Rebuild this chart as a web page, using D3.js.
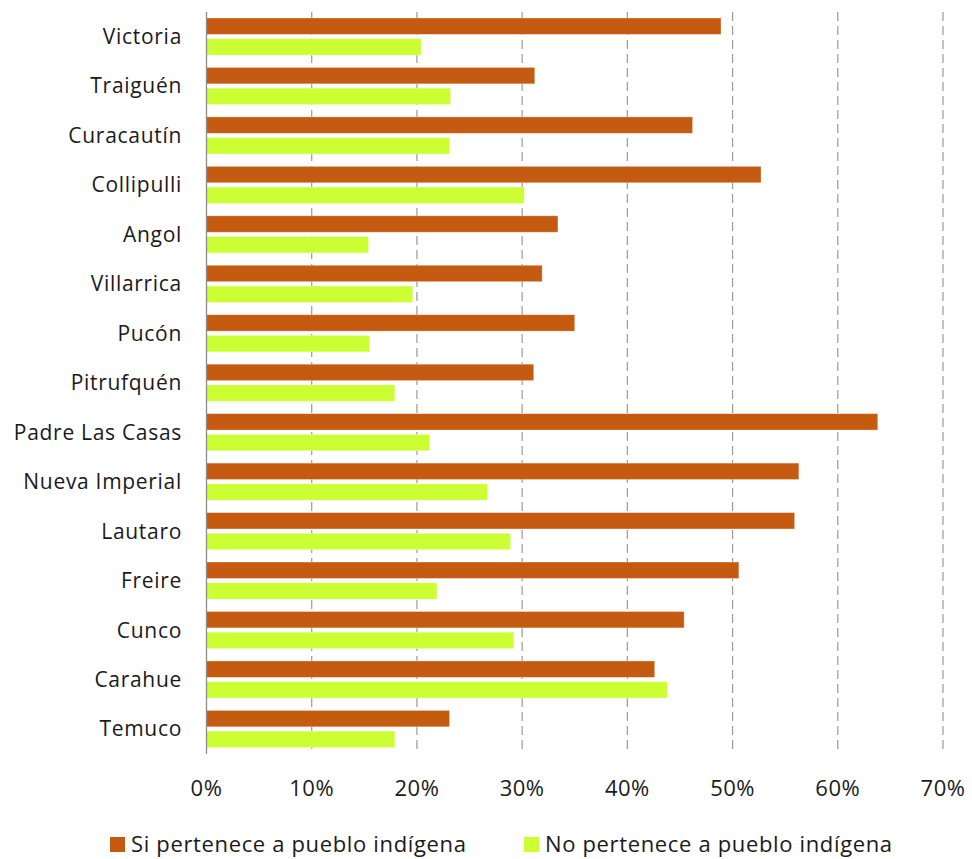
<!DOCTYPE html>
<html>
<head>
<meta charset="utf-8">
<script src="https://cdn.jsdelivr.net/npm/d3@7"></script>
<style>
  body { margin: 0; background: #fff; }
  svg { display: block; font-family: "Open Sans", sans-serif; }
</style>
</head>
<body>
<svg id="chart" width="972" height="859"></svg>
<script>
// data (shares, 0..1)
const categories = ["Victoria", "Traiguén", "Curacautín", "Collipulli", "Angol", "Villarrica",
  "Pucón", "Pitrufquén", "Padre Las Casas", "Nueva Imperial", "Lautaro", "Freire",
  "Cunco", "Carahue", "Temuco"];
const si_values = [0.489, 0.312, 0.462, 0.527, 0.334, 0.319, 0.350, 0.311, 0.638, 0.563,
  0.559, 0.506, 0.454, 0.426, 0.231];
const no_values = [0.204, 0.232, 0.231, 0.302, 0.154, 0.196, 0.155, 0.179, 0.212, 0.267,
  0.289, 0.219, 0.292, 0.438, 0.179];
const series_names = ["Si pertenece a pueblo indígena", "No pertenece a pueblo indígena"];
const series_colors = ["#C55A11", "#CCFF33"];
const tick_values = [0, 0.1, 0.2, 0.3, 0.4, 0.5, 0.6, 0.7];

const svg = d3.select("#chart");

const x = d3.scaleLinear().domain([0, 0.7]).range([206.5, 943]);
const y = d3.scaleBand().domain(categories).range([11.8, 753.7]);
const ySub = d3.scaleBand().domain(series_names).range([0, y.bandwidth()])
  .paddingInner(0.208).paddingOuter(0.298);

const rows = categories.map((c, i) => ({cat: c, values: [si_values[i], no_values[i]]}));

// dashed gridlines
svg.append("g")
  .selectAll("line")
  .data(tick_values.filter(t => t > 0))
  .join("line")
    .attr("x1", d => x(d)).attr("x2", d => x(d))
    .attr("y1", 12).attr("y2", 754)
    .attr("stroke", "#9a9a9a")
    .attr("stroke-width", 1.2)
    .attr("stroke-dasharray", "9,5");

// bars
const group = svg.append("g")
  .selectAll("g")
  .data(rows)
  .join("g")
    .attr("transform", d => `translate(0,${y(d.cat)})`);

group.selectAll("rect")
  .data(d => d.values.map((v, k) => ({name: series_names[k], value: v, k})))
  .join("rect")
    .attr("x", x(0))
    .attr("y", d => ySub(d.name))
    .attr("width", d => x(d.value) - x(0))
    .attr("height", ySub.bandwidth())
    .attr("fill", d => series_colors[d.k])
    .attr("stroke", "#ffffff")
    .attr("stroke-opacity", 0.4)
    .attr("stroke-width", 0.8);

// vertical axis line
svg.append("line")
  .attr("x1", x(0)).attr("x2", x(0))
  .attr("y1", 12).attr("y2", 754)
  .attr("stroke", "#8c8c8c")
  .attr("stroke-width", 1.3);

// category labels
svg.append("g")
  .selectAll("text")
  .data(categories)
  .join("text")
    .attr("x", 182)
    .attr("y", d => y(d) + y.bandwidth() / 2 + 7.5)
    .attr("text-anchor", "end")
    .attr("font-size", 21)
    .attr("letter-spacing", 0.7)
    .attr("fill", "#1a1a1a")
    .text(d => d);

// x tick labels
const fmt = d3.format(".0%");
svg.append("g")
  .selectAll("text")
  .data(tick_values)
  .join("text")
    .attr("x", d => x(d))
    .attr("y", 796)
    .attr("text-anchor", "middle")
    .attr("font-size", 22)
    .attr("letter-spacing", 0.5)
    .attr("fill", "#1a1a1a")
    .text(d => fmt(d));

// legend
const legend_x = [110, 524];
const legend = svg.append("g")
  .selectAll("g")
  .data(series_names)
  .join("g")
    .attr("transform", (d, i) => `translate(${legend_x[i]},837)`);

legend.append("rect")
  .attr("width", 15).attr("height", 15)
  .attr("fill", (d, i) => series_colors[i]);

legend.append("text")
  .attr("x", 21)
  .attr("y", 15)
  .attr("font-size", 22)
  .attr("letter-spacing", 0.65)
  .attr("fill", "#1a1a1a")
  .text(d => d);
</script>
</body>
</html>
